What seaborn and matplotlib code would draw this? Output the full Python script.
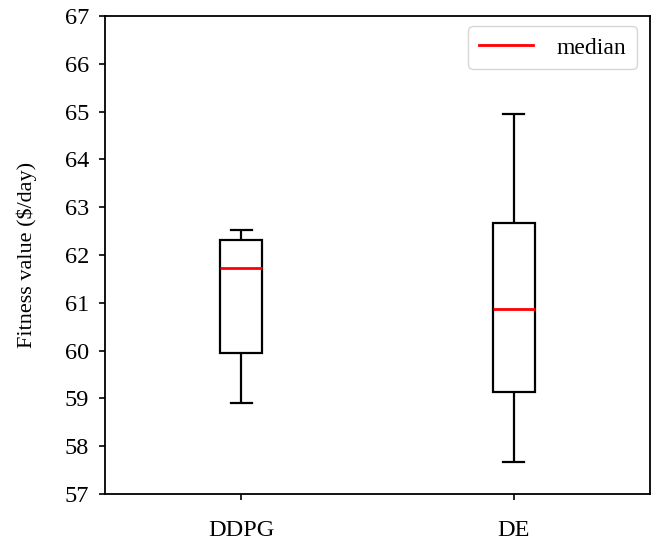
import matplotlib
matplotlib.use("Agg")
import matplotlib.pyplot as plt
import seaborn as sns
import pandas as pd
from matplotlib.lines import Line2D

# five-number summaries (min, Q1, median, Q3, max)
categories = ["DDPG", "DE"]
ddpg_values = [58.91, 59.96, 61.72, 62.32, 62.52]
de_values = [57.67, 59.14, 60.87, 62.67, 64.94]
y_ticks = [57, 58, 59, 60, 61, 62, 63, 64, 65, 66, 67]

plt.rcParams['font.family'] = ['Liberation Serif', 'DejaVu Serif']
plt.rcParams['mathtext.fontset'] = 'stix'

df = pd.DataFrame({
    "method": [categories[0]] * len(ddpg_values) + [categories[1]] * len(de_values),
    "value": ddpg_values + de_values,
})

fig = plt.figure(figsize=(6.58, 5.43), dpi=100)
ax = fig.add_axes([0.1596, 0.0902, 0.8282, 0.8803])

sns.boxplot(data=df, x="method", y="value", order=categories, ax=ax,
            color="white", linecolor="black", linewidth=1.6, width=0.155,
            whis=1.5, showfliers=False,
            medianprops={"color": "red", "linewidth": 2.0})

ax.set_xlim(-0.5, 1.5)
ax.set_ylim(57, 67)
ax.set_yticks(y_ticks)
ax.set_xlabel("")
ax.set_ylabel("Fitness value (\\$/day)", fontsize=16, labelpad=20)
ax.tick_params(axis="both", labelsize=17.5, length=4.5, width=1.2, direction="out")
ax.tick_params(axis="y", pad=7)
ax.tick_params(axis="x", pad=14.5)
for s in ax.spines.values():
    s.set_linewidth(1.3)

handle = Line2D([], [], color="red", linewidth=2.0)
ax.legend([handle], ["median"], loc="upper right", fontsize=17,
          handlelength=2.3, handletextpad=1.0, borderpad=0.45,
          bbox_to_anchor=(0.998, 1.003))

fig.savefig("out.png", dpi=100)
